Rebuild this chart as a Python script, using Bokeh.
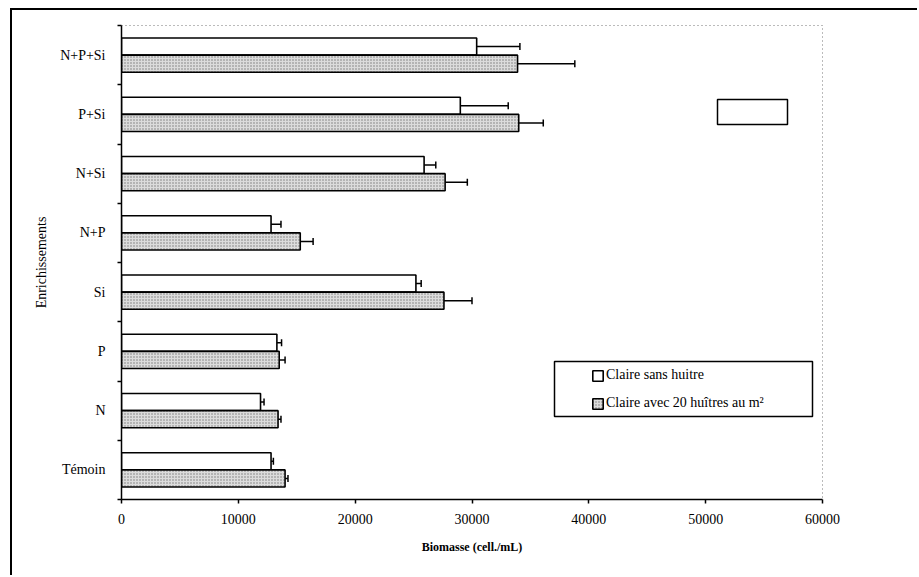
from bokeh.plotting import figure
from bokeh.models import (ColumnDataSource, Range1d, FixedTicker, Whisker, TeeHead,
                          Legend, LegendItem, BoxAnnotation, NumeralTickFormatter)
from bokeh.embed import file_html
from bokeh.resources import INLINE

categories = ["Témoin", "N", "P", "Si", "N+P", "N+Si", "P+Si", "N+P+Si"]
sans_huitre = [12800, 11900, 13300, 25200, 12800, 25900, 29000, 30400]
sans_huitre_err = [200, 300, 400, 450, 850, 1000, 4100, 3700]
avec_huitres = [14000, 13400, 13500, 27600, 15300, 27700, 34000, 33900]
avec_huitres_err = [250, 250, 500, 2400, 1100, 1900, 2100, 4900]
x_ticks = [0, 10000, 20000, 30000, 40000, 50000, 60000]
series_labels = ["Claire sans huitre", "Claire avec 20 huîtres au m²"]

FONT = "Liberation Serif"
BAR_H = 0.29
centers = [i + 0.5 for i in range(len(categories))]

src_sans = ColumnDataSource(dict(
    y=[c + BAR_H / 2 for c in centers], v=sans_huitre,
    up=[v + e for v, e in zip(sans_huitre, sans_huitre_err)]))
src_avec = ColumnDataSource(dict(
    y=[c - BAR_H / 2 for c in centers], v=avec_huitres,
    up=[v + e for v, e in zip(avec_huitres, avec_huitres_err)]))

p = figure(width=907, height=567, output_backend="svg", toolbar_location=None,
           x_range=Range1d(x_ticks[0], x_ticks[-1]), y_range=Range1d(0, len(categories)),
           min_border_left=109, min_border_right=97, min_border_top=15, min_border_bottom=78)
p.margin = (8, 0, 0, 10)
p.styles = {"border-left": "2px solid black", "border-top": "2px solid black"}
p.xgrid.visible = False
p.ygrid.visible = False
p.background_fill_color = "white"
p.border_fill_color = "white"
p.outline_line_color = "#777777"
p.outline_line_dash = "1 3"
p.outline_line_width = 1

r_sans = p.hbar(y="y", right="v", left=0, height=BAR_H, source=src_sans,
                fill_color="white", line_color="black", line_width=1.6)
r_avec = p.hbar(y="y", right="v", left=0, height=BAR_H, source=src_avec,
                fill_color="#dcdcdc", line_color="black", line_width=1.6,
                hatch_pattern="dot", hatch_color="#333333", hatch_scale=3,
                hatch_weight=1, hatch_alpha=0.6)

for src in (src_sans, src_avec):
    w = Whisker(base="y", lower="v", upper="up", dimension="width", source=src,
                line_color="black", line_width=1.5, lower_head=None,
                upper_head=TeeHead(size=7, line_color="black", line_width=1.5))
    p.add_layout(w)

# x axis
xa = p.xaxis[0]
xa.ticker = FixedTicker(ticks=x_ticks, minor_ticks=[])
xa.formatter = NumeralTickFormatter(format="0")
xa.axis_label = "Biomasse (cell./mL)"
xa.axis_label_text_font = FONT
xa.axis_label_text_font_style = "bold"
xa.axis_label_text_font_size = "12px"
xa.axis_label_text_color = "black"
xa.axis_label_standoff = 13
xa.major_label_text_font = FONT
xa.major_label_text_font_size = "14px"
xa.major_label_text_color = "black"
xa.major_label_standoff = 10
xa.major_tick_in = 0
xa.major_tick_out = 4
xa.axis_line_width = 1.5
xa.axis_line_color = "black"
xa.major_tick_line_width = 1.5
xa.major_tick_line_color = "black"

# y axis
ya = p.yaxis[0]
ya.ticker = FixedTicker(ticks=centers, minor_ticks=list(range(len(categories) + 1)))
ya.major_label_overrides = {c: lab for c, lab in zip(centers, categories)}
ya.axis_label = "Enrichissements"
ya.axis_label_text_font = FONT
ya.axis_label_text_font_style = "normal"
ya.axis_label_text_font_size = "14px"
ya.axis_label_text_color = "black"
ya.axis_label_standoff = 8
ya.major_label_text_font = FONT
ya.major_label_text_font_size = "14px"
ya.major_label_text_color = "black"
ya.major_label_standoff = 12
ya.major_tick_line_color = None
ya.major_tick_in = 0
ya.major_tick_out = 0
ya.minor_tick_in = 0
ya.minor_tick_out = 4
ya.minor_tick_line_width = 1.5
ya.minor_tick_line_color = "black"
ya.axis_line_width = 1.5
ya.axis_line_color = "black"

legend = Legend(items=[LegendItem(label=series_labels[0], renderers=[r_sans]),
                       LegendItem(label=series_labels[1], renderers=[r_avec])],
                location=(470, 86), padding=0, spacing=8, glyph_width=13, glyph_height=13,
                label_height=20, label_standoff=2, label_text_font=FONT,
                label_text_font_size="14px", label_text_color="black",
                border_line_alpha=0, background_fill_alpha=0)
p.add_layout(legend, "center")

# frames (screen units, relative to the plot frame, y measured upward)
legend_frame = BoxAnnotation(left=433, right=691, bottom=83, top=138,
                             left_units="screen", right_units="screen",
                             top_units="screen", bottom_units="screen",
                             fill_alpha=0, line_color="black", line_alpha=1, line_width=1.5)
small_box = BoxAnnotation(left=596, right=666, bottom=375, top=400,
                          left_units="screen", right_units="screen",
                          top_units="screen", bottom_units="screen",
                          fill_alpha=0, line_color="black", line_alpha=1, line_width=1.5)
p.add_layout(legend_frame)
p.add_layout(small_box)

open("out.html", "w").write(file_html(p, INLINE))
